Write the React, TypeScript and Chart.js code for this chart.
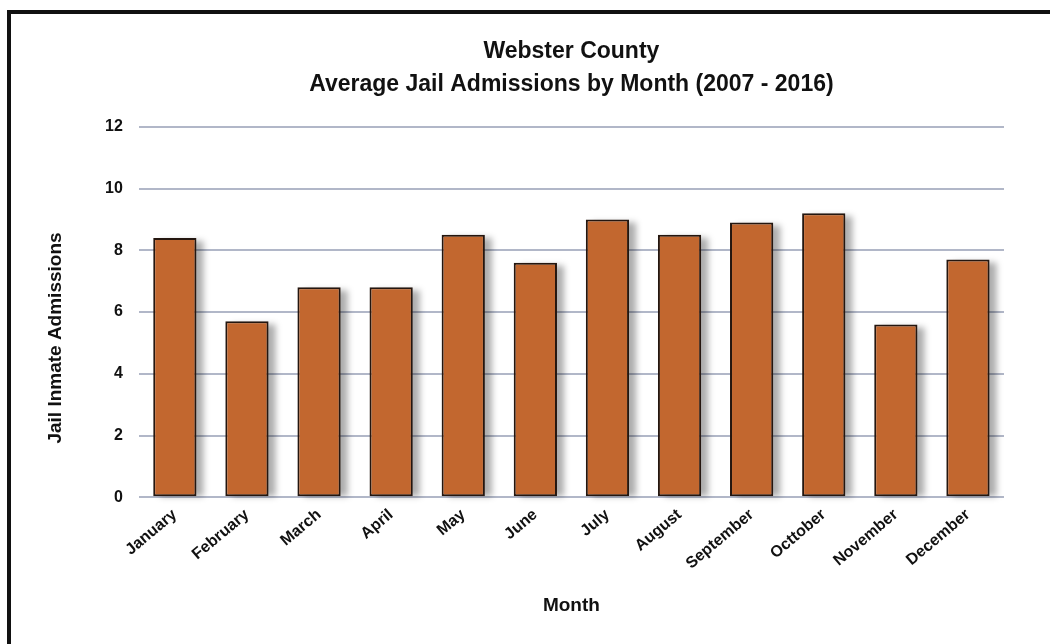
import React, { useEffect, useRef } from "react";
import { Chart, registerables } from "chart.js";

Chart.register(...registerables);

const months = [
  "January", "February", "March", "April", "May", "June",
  "July", "August", "September", "Octtober", "November", "December",
];
const admissions = [8.4, 5.7, 6.8, 6.8, 8.5, 7.6, 9.0, 8.5, 8.9, 9.2, 5.6, 7.7];
const titleLines = ["Webster County", "Average Jail Admissions by Month (2007 - 2016)"];
const yAxisTitle = "Jail Inmate Admissions";
const xAxisTitle = "Month";

const FONT = "'Liberation Sans', Arial, sans-serif";

const shadowPlugin = {
  id: "barShadow",
  beforeDatasetsDraw(chart: any) {
    const ctx = chart.ctx;
    const meta = chart.getDatasetMeta(0);
    ctx.save();
    ctx.fillStyle = "rgba(0,0,0,0.32)";
    ctx.filter = "blur(3px)";
    meta.data.forEach((bar: any) => {
      const p = bar.getProps(["x", "y", "base", "width"], true);
      ctx.fillRect(p.x - p.width / 2 + 7, p.y + 3, p.width, p.base - p.y - 3);
    });
    ctx.restore();
  },
};

const yTitlePlugin = {
  id: "yTitle",
  afterDraw(chart: any) {
    const ctx = chart.ctx;
    const area = chart.chartArea;
    ctx.save();
    ctx.translate(area.left - 83, area.top + (area.bottom - area.top) * 0.57);
    ctx.rotate(-Math.PI / 2);
    ctx.font = `bold 19px ${FONT}`;
    ctx.fillStyle = "#111";
    ctx.textAlign = "center";
    ctx.textBaseline = "middle";
    ctx.fillText(yAxisTitle, 0, 0);
    ctx.restore();
  },
};

export default function App() {
  const ref = useRef<HTMLCanvasElement | null>(null);

  useEffect(() => {
    document.body.style.overflow = "hidden";
    const chart = new Chart(ref.current!, {
      type: "bar",
      data: {
        labels: months,
        datasets: [
          {
            data: admissions,
            backgroundColor: "#C2672F",
            borderColor: "#24160f",
            borderWidth: 2,
            borderSkipped: false,
            categoryPercentage: 0.6,
            barPercentage: 1,
          },
        ],
      },
      options: {
        animation: false,
        responsive: false,
        maintainAspectRatio: false,
        layout: { padding: { left: 89, right: 46, top: 35, bottom: 27 } },
        plugins: {
          legend: { display: false },
          tooltip: { enabled: false },
          title: {
            display: true,
            text: titleLines,
            fullSize: false,
            color: "#111",
            font: { family: FONT, size: 23, weight: "bold", lineHeight: 1.43 },
            padding: { top: 0, bottom: 26 },
          },
        },
        scales: {
          x: {
            grid: { display: false, drawTicks: false },
            border: { display: false },
            ticks: {
              color: "#111",
              font: { family: FONT, size: 16, weight: "bold" },
              maxRotation: 40,
              minRotation: 40,
              padding: 8,
            },
            title: {
              display: true,
              text: xAxisTitle,
              color: "#111",
              font: { family: FONT, size: 19, weight: "bold" },
              padding: { top: 13, bottom: 0 },
            },
          },
          y: {
            min: 0,
            max: 12,
            z: 1,
            grid: { color: "rgba(100,112,145,0.5)", lineWidth: 2, drawTicks: false },
            border: { display: false },
            ticks: {
              stepSize: 2,
              color: "#111",
              font: { family: FONT, size: 16, weight: "bold" },
              padding: 16,
            },
          },
        },
      },
      plugins: [shadowPlugin, yTitlePlugin],
    });
    return () => chart.destroy();
  }, []);

  return (
    <div style={{ position: "absolute", left: 0, top: 0, width: 1050, height: 644, background: "#fff", overflow: "hidden" }}>
      <div
        style={{
          position: "absolute",
          left: 7,
          top: 10,
          width: 1100,
          height: 700,
          borderTop: "4px solid #111",
          borderLeft: "4px solid #111",
          boxSizing: "border-box",
        }}
      />
      <canvas ref={ref} width={1050} height={644} style={{ position: "absolute", left: 0, top: 0 }} />
    </div>
  );
}
